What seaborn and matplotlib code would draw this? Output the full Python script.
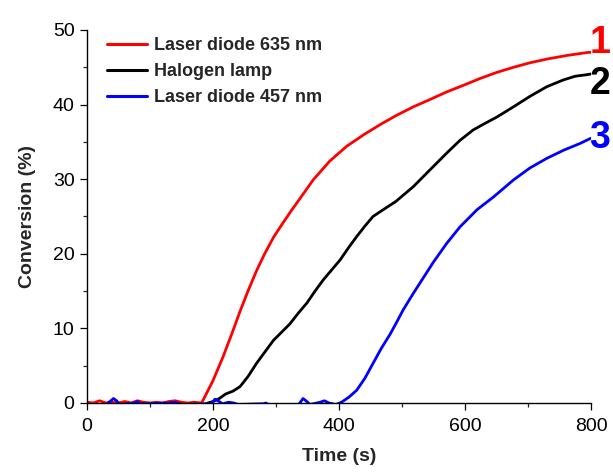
import matplotlib
matplotlib.use("Agg")
import matplotlib.pyplot as plt
from matplotlib.ticker import MultipleLocator
import seaborn as sns
import pandas as pd

# ---- data ----
red_t = [0, 10, 20, 30, 40, 50, 60, 70, 80, 90, 100, 110, 120, 130, 140, 150, 160, 170, 182,
         200, 216, 230, 243, 256, 269, 282, 296, 310, 322, 338, 359, 385, 412, 440, 465, 490,
         518, 545, 571, 598, 624, 650, 677, 703, 730, 763, 796, 800]
red_y = [0.1, 0.0, 0.3, 0.0, 0.1, 0.0, 0.2, 0.0, 0.3, 0.1, 0.0, 0.1, 0.0, 0.2, 0.3, 0.1, 0.0, 0.1, 0.0,
         3.0, 6.2, 9.3, 12.3, 15.1, 17.7, 20.0, 22.2, 24.0, 25.5, 27.4, 29.9, 32.4, 34.4, 36.0, 37.3, 38.5,
         39.7, 40.7, 41.7, 42.6, 43.5, 44.3, 45.0, 45.6, 46.1, 46.6, 47.0, 47.0]

black_t = [0, 100, 186, 192, 200, 210, 220, 232, 243, 256, 269, 282, 296, 309, 322, 335, 349, 362,
           375, 388, 402, 415, 428, 441, 454, 470, 490, 518, 545, 571, 592, 613, 630, 650, 677, 703,
           730, 756, 775, 793, 800]
black_y = [-0.3, -0.3, -0.2, 0.0, 0.2, 0.6, 1.2, 1.6, 2.2, 3.6, 5.3, 6.8, 8.4, 9.5, 10.6, 12.0, 13.4, 15.0,
           16.5, 17.8, 19.2, 20.8, 22.3, 23.7, 25.0, 25.9, 27.0, 29.0, 31.3, 33.5, 35.2, 36.6, 37.4, 38.3, 39.7, 41.1,
           42.4, 43.3, 43.8, 44.0, 44.1]

blue_t = [0, 30, 38, 42, 47, 52, 75, 80, 85, 130, 140, 150, 198, 203, 208, 215, 225, 233, 240, 280, 284,
          288, 336, 343, 349, 354, 370, 377, 384, 395, 404, 416, 428, 441, 454, 467, 481, 492, 502, 518,
          534, 550, 571, 592, 619, 645, 677, 703, 730, 757, 783, 800]
blue_y = [-0.2, -0.2, 0.3, 0.6, 0.3, -0.2, 0.0, 0.2, -0.1, 0.0, 0.1, -0.2, -0.1, 0.5, 0.3, -0.1, 0.1, 0.0, -0.2, -0.1, 0.0,
          -0.2, -0.2, 0.6, 0.2, -0.2, 0.1, 0.3, 0.0, -0.2, 0.1, 0.8, 1.7, 3.3, 5.3, 7.3, 9.2, 10.9, 12.5, 14.7,
          16.8, 18.9, 21.4, 23.6, 25.9, 27.6, 29.9, 31.5, 32.8, 33.9, 34.8, 35.5]

series_names = ["Laser diode 635 nm", "Halogen lamp", "Laser diode 457 nm"]
curve_numbers = ["1", "2", "3"]
colors = ["#FF0000", "#000000", "#0000FF"]

frames = []
for name, t, y in zip(series_names, [red_t, black_t, blue_t], [red_y, black_y, blue_y]):
    frames.append(pd.DataFrame({"Time (s)": t, "Conversion (%)": y, "source": name}))
df = pd.concat(frames, ignore_index=True)

sns.set_style("ticks")
plt.rcParams["font.family"] = ["Liberation Sans", "DejaVu Sans"]

fig = plt.figure(figsize=(6.13, 4.72), dpi=100)
ax = fig.add_axes([0.1419, 0.1462, 0.8222, 0.7903])

sns.lineplot(data=df, x="Time (s)", y="Conversion (%)", hue="source",
             hue_order=series_names, palette=colors, linewidth=2.0,
             estimator=None, sort=False, ax=ax)

ax.set_xlim(0, 800)
ax.set_ylim(0, 50)
ax.xaxis.set_major_locator(MultipleLocator(200))
ax.xaxis.set_minor_locator(MultipleLocator(100))
ax.yaxis.set_major_locator(MultipleLocator(10))
ax.yaxis.set_minor_locator(MultipleLocator(5))
ax.tick_params(axis="both", which="major", direction="out", length=5, width=0.9,
               labelsize=14, colors="black")
ax.tick_params(axis="x", which="major", pad=6)
ax.tick_params(axis="y", which="major", pad=4)
ax.tick_params(axis="both", which="minor", direction="out", length=2.8, width=0.9)
for side in ["top", "right"]:
    ax.spines[side].set_visible(False)
for side in ["left", "bottom"]:
    ax.spines[side].set_linewidth(1.0)
    ax.spines[side].set_color("black")

ax.set_xlabel("Time (s)", fontsize=14, fontweight="bold", labelpad=9)
ax.set_ylabel("Conversion (%)", fontsize=14, fontweight="bold", labelpad=12)

leg = ax.legend(loc="upper left", bbox_to_anchor=(0.025, 1.0), frameon=False,
                prop={"weight": "bold", "size": 13}, handlelength=2.2,
                handletextpad=0.4, labelspacing=0.5, borderaxespad=0.0)
for line in leg.get_lines():
    line.set_linewidth(2.2)

offsets = [7, -7.5, 0]
for num, t, y, c, dy in zip(curve_numbers, [red_t, black_t, blue_t], [red_y, black_y, blue_y], colors, offsets):
    ax.annotate(num, xy=(t[-1], y[-1]), xytext=(-1, dy), textcoords="offset points",
                ha="left", va="center", fontsize=27, fontweight="bold", color=c,
                annotation_clip=False)

fig.savefig("out.png", dpi=100)
